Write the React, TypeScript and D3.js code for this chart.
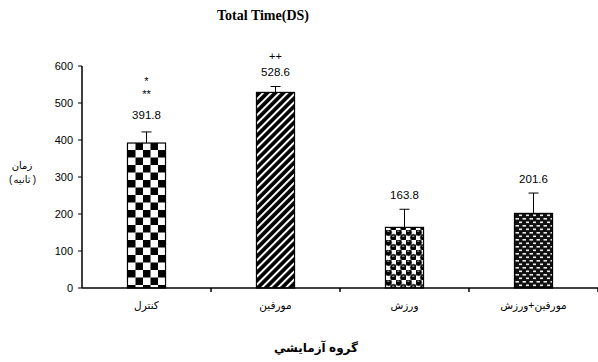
import React from "react";
import * as d3 from "d3";

const categories = ["کنترل", "مورفين", "ورزش", "مورفين+ورزش"];
const values = [391.8, 528.6, 163.8, 201.6];
const errors = [30, 16, 49, 55];
const marks: string[][] = [["*", "**"], ["++"], [], []];
const yTicks = [0, 100, 200, 300, 400, 500, 600];
const patterns = ["checker", "stripes", "balls", "dashes"];

const W = 598;
const H = 362;
const M = { left: 82, right: 0, top: 66, bottom: 74 };

export default function App() {
  const x = d3
    .scaleBand<string>()
    .domain(categories)
    .range([M.left, W - M.right])
    .paddingInner(0.705)
    .paddingOuter(0.3525);
  const y = d3.scaleLinear().domain([0, 600]).range([H - M.bottom, M.top]);
  const y0 = y(0);
  const sans = "Arial, 'Liberation Sans', 'DejaVu Sans', sans-serif";
  const step = x.step();
  const boundaries = categories.map((_, i) => M.left + step * (i + 1));

  return (
    <svg
      width={W}
      height={H}
      style={{ position: "absolute", left: 0, top: 0, background: "#fff" }}
    >
      <defs>
        <pattern id="checker" width={15} height={15} patternUnits="userSpaceOnUse" x={128} y={0}>
          <rect width={15} height={15} fill="#fff" />
          <rect width={7.5} height={7.5} fill="#000" />
          <rect x={7.5} y={7.5} width={7.5} height={7.5} fill="#000" />
        </pattern>
        <pattern id="stripes" width={5.7} height={10} patternUnits="userSpaceOnUse" patternTransform="rotate(45)">
          <rect width={5.7} height={10} fill="#000" />
          <rect width={2} height={10} fill="#fff" />
        </pattern>
        <pattern id="balls" width={10} height={10} patternUnits="userSpaceOnUse" x={386} y={0}>
          <rect width={10} height={10} fill="#fff" />
          <circle cx={2.5} cy={2.5} r={3.4} fill="#000" stroke="#777" strokeWidth={0.6} />
          <circle cx={7.5} cy={7.5} r={3.4} fill="#000" stroke="#777" strokeWidth={0.6} />
          <ellipse cx={2.3} cy={1.2} rx={1.3} ry={0.6} fill="#aaa" />
          <ellipse cx={7.3} cy={6.2} rx={1.3} ry={0.6} fill="#aaa" />
        </pattern>
        <pattern id="dashes" width={7} height={7} patternUnits="userSpaceOnUse" x={515} y={0}>
          <rect width={7} height={7} fill="#111" />
          <rect x={0.5} y={1} width={3.5} height={1.6} fill="#eee" />
          <rect x={4} y={4.5} width={3.5} height={1.6} fill="#eee" />
        </pattern>
      </defs>

      <text
        x={263}
        y={20}
        textAnchor="middle"
        fontFamily="'Liberation Serif', 'Times New Roman', serif"
        fontWeight="bold"
        fontSize={14}
      >
        Total Time(DS)
      </text>

      {/* bars */}
      {categories.map((c, i) => {
        const bx = x(c)!;
        const bw = x.bandwidth();
        const top = y(values[i]);
        const errTop = y(values[i] + errors[i]);
        const cx = bx + bw / 2;
        const labelBase = errTop - 10;
        return (
          <g key={c}>
            <line x1={cx} x2={cx} y1={top} y2={errTop} stroke="#000" strokeWidth={1} />
            <line x1={cx - 5} x2={cx + 5} y1={errTop} y2={errTop} stroke="#000" strokeWidth={1} />
            <rect
              x={bx}
              y={top}
              width={bw}
              height={y0 - top}
              fill={`url(#${patterns[i]})`}
              stroke="#000"
              strokeWidth={1.2}
            />
            <text x={cx} y={labelBase - (marks[i].some((m) => m.includes("*")) ? 3 : 0)} textAnchor="middle" fontFamily={sans} fontSize={11.5}>
              {values[i].toFixed(1)}
            </text>
            {marks[i]
              .slice()
              .reverse()
              .map((m, k) => (
                <text
                  key={k}
                  x={cx}
                  y={labelBase - (m.includes("*") ? 24 : 16) - 13 * k}
                  textAnchor="middle"
                  fontFamily={sans}
                  fontSize={11}
                >
                  {m}
                </text>
              ))}
            <text x={cx} y={309} textAnchor="middle" fontFamily={sans} fontSize={10.5}>
              {c}
            </text>
          </g>
        );
      })}

      {/* y axis */}
      <line x1={M.left} x2={M.left} y1={y(600)} y2={y0} stroke="#000" strokeWidth={1.5} />
      {yTicks.map((t) => (
        <g key={t}>
          <line x1={M.left - 4} x2={M.left} y1={y(t)} y2={y(t)} stroke="#000" strokeWidth={1} />
          <text
            x={M.left - 9}
            y={y(t) + 4}
            textAnchor="end"
            fontFamily={sans}
            fontSize={11}
          >
            {t}
          </text>
        </g>
      ))}

      {/* x axis */}
      <line x1={M.left} x2={W} y1={y0} y2={y0} stroke="#000" strokeWidth={1.5} />
      {boundaries.map((b, i) => (
        <line key={i} x1={b} x2={b} y1={y0} y2={y0 + 4} stroke="#000" strokeWidth={1.5} />
      ))}

      <text x={22} y={169} textAnchor="middle" fontFamily={sans} fontSize={10}>
        زمان
      </text>
      <g fontFamily={sans} fontSize={10}>
        <text x={9} y={183} textAnchor="start">(</text>
        <text x={22} y={183} textAnchor="middle">ثانيه</text>
        <text x={36} y={183} textAnchor="end">)</text>
      </g>

      <text
        x={316}
        y={352}
        textAnchor="middle"
        fontFamily={sans}
        fontWeight="bold"
        fontSize={12}
      >
        گروه آزمايشي
      </text>
    </svg>
  );
}
